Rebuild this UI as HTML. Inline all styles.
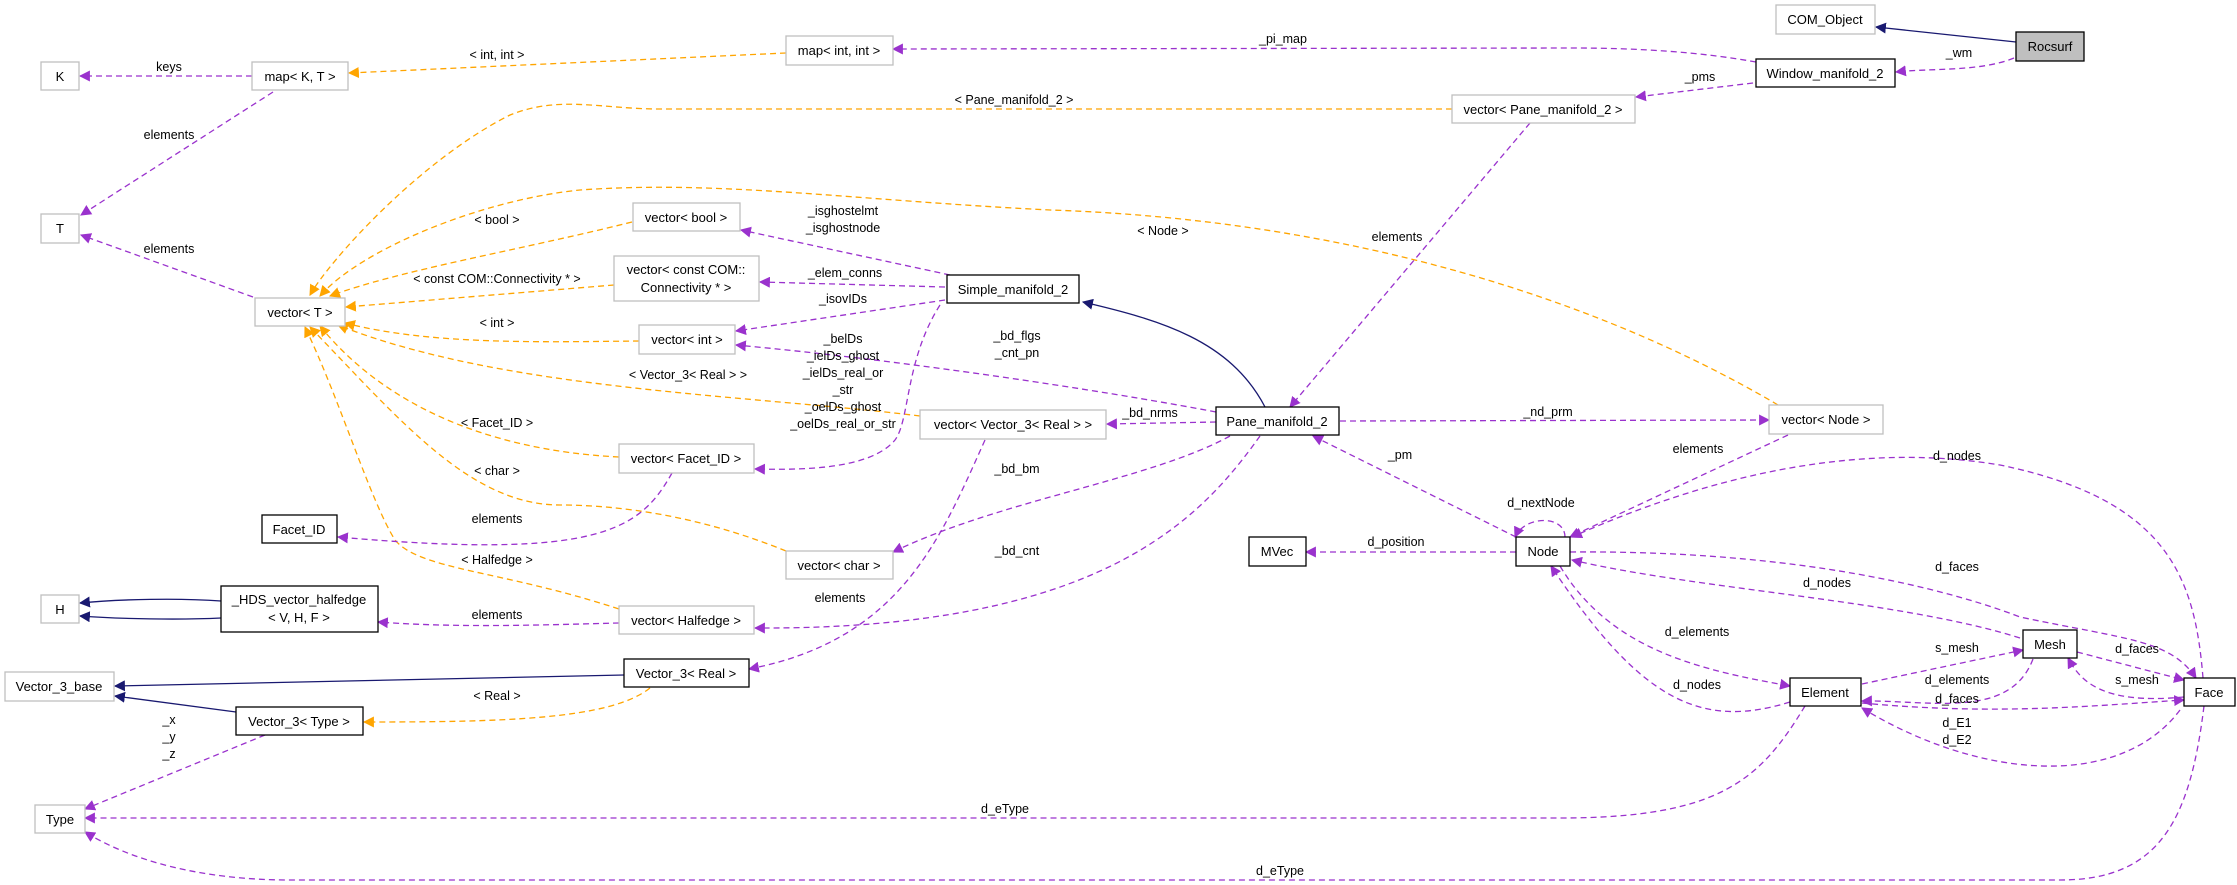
<!DOCTYPE html>
<html><head><meta charset="utf-8"><style>
html,body{margin:0;padding:0;background:#fff;}
svg{display:block;font-family:"Liberation Sans",Arial,sans-serif;font-size:13px;}
</style></head><body>
<svg width="2237" height="885" viewBox="0 0 2237 885" xmlns="http://www.w3.org/2000/svg">
<defs>
<marker id="p" viewBox="0 0 10 10" refX="9" refY="5" markerWidth="11" markerHeight="11" markerUnits="userSpaceOnUse" orient="auto"><path d="M0,0 L10,5 L0,10 z" fill="#9a32cd"/></marker>
<marker id="o" viewBox="0 0 10 10" refX="9" refY="5" markerWidth="11" markerHeight="11" markerUnits="userSpaceOnUse" orient="auto"><path d="M0,0 L10,5 L0,10 z" fill="#ffa500"/></marker>
<marker id="n" viewBox="0 0 10 10" refX="9" refY="5" markerWidth="11" markerHeight="11" markerUnits="userSpaceOnUse" orient="auto"><path d="M0,0 L10,5 L0,10 z" fill="#191970"/></marker>
</defs>
<g fill="none" stroke-width="1.3">
<g stroke="#191970" marker-end="url(#n)">
<path d="M2016,42 L1876,27"/>
<path d="M1265,407 C1230,340 1160,320 1083,302"/>
<path d="M221,601 C180,598 120,599 80,603"/>
<path d="M221,618 C180,620 120,619 80,616"/>
<path d="M624,675 L115,686"/>
<path d="M236,712 L115,696"/>
</g>
<g stroke="#ffa500" stroke-dasharray="6,4" marker-end="url(#o)">
<path d="M1452,109 L660,109 C600,109 560,95 510,115 C420,160 330,260 310,295"/>
<path d="M786,53 L349,73"/>
<path d="M632,222 C520,250 400,270 330,296"/>
<path d="M614,285 L346,307"/>
<path d="M639,341 C540,342 430,345 345,323"/>
<path d="M920,416 C750,395 500,390 338,325"/>
<path d="M619,457 C480,450 380,400 320,326"/>
<path d="M786,551 C700,516 620,505 560,505 C470,505 400,420 310,327"/>
<path d="M619,609 C500,570 420,570 395,540 C370,500 340,400 305,327"/>
<path d="M1778,405 C1600,300 1350,220 1050,210 C850,200 720,180 580,190 C480,200 360,250 320,296"/>
<path d="M650,688 C610,720 500,722 364,722"/>
</g>
<g stroke="#9a32cd" stroke-dasharray="6,4" marker-end="url(#p)">
<path d="M2014,58 C1980,72 1930,68 1896,72"/>
<path d="M1756,62 C1700,52 1640,48 1570,48 L893,49"/>
<path d="M1753,83 L1636,97"/>
<path d="M252,76 L80,76"/>
<path d="M273,92 L81,215"/>
<path d="M253,297 L81,235"/>
<path d="M950,275 L741,230"/>
<path d="M945,287 L760,282"/>
<path d="M945,300 L736,331"/>
<path d="M940,305 C905,360 910,420 895,440 C870,470 800,470 755,469"/>
<path d="M1216,412 C1100,390 900,360 736,345"/>
<path d="M1216,422 L1107,424"/>
<path d="M1230,436 C1150,480 1000,500 893,552"/>
<path d="M1260,436 C1200,520 1100,630 755,628"/>
<path d="M985,440 C940,540 900,640 749,669"/>
<path d="M672,473 C640,530 600,560 338,537"/>
<path d="M619,623 C540,625 460,628 378,622"/>
<path d="M265,735 L85,809"/>
<path d="M1530,123 L1290,407"/>
<path d="M1340,421 L1769,420"/>
<path d="M1788,435 L1570,537"/>
<path d="M1516,537 L1313,436"/>
<path d="M1565,537 C1565,515 1525,515 1515,537"/>
<path d="M1516,552 L1306,552"/>
<path d="M2203,678 C2195,580 2170,500 2000,465 C1850,440 1700,480 1572,537"/>
<path d="M1570,552 C1800,550 1950,590 2020,617 C2130,640 2170,640 2196,678"/>
<path d="M2020,638 C1900,600 1700,590 1572,560"/>
<path d="M1560,566 C1610,650 1700,670 1790,686"/>
<path d="M1790,702 C1700,730 1640,700 1551,566"/>
<path d="M1862,684 L2023,650"/>
<path d="M2033,659 C2010,720 1930,700 1862,701"/>
<path d="M2077,652 L2184,680"/>
<path d="M2184,697 C2100,705 2080,680 2068,658"/>
<path d="M1862,703 C2000,716 2100,705 2184,700"/>
<path d="M2180,710 C2120,790 1980,780 1862,708"/>
<path d="M1805,706 C1760,780 1720,818 1560,818 L85,818"/>
<path d="M2204,706 C2190,820 2160,880 2060,880 L290,880 C200,880 130,860 85,832"/>
</g>
</g>
<g stroke-width="1.3">
<g fill="#fff" stroke="#bfbfbf">
<rect x="1776" y="5" width="99" height="29"/>
<rect x="786" y="36" width="107" height="29"/>
<rect x="41" y="62" width="38" height="28"/>
<rect x="252" y="62" width="96" height="28"/>
<rect x="1452" y="95" width="183" height="28"/>
<rect x="41" y="214" width="38" height="29"/>
<rect x="633" y="203" width="107" height="28"/>
<rect x="614" y="256" width="145" height="45"/>
<rect x="255" y="298" width="90" height="28"/>
<rect x="639" y="325" width="96" height="29"/>
<rect x="920" y="410" width="186" height="29"/>
<rect x="1769" y="405" width="114" height="29"/>
<rect x="619" y="444" width="135" height="29"/>
<rect x="786" y="551" width="107" height="28"/>
<rect x="41" y="595" width="38" height="28"/>
<rect x="619" y="606" width="135" height="28"/>
<rect x="5" y="672" width="109" height="29"/>
<rect x="35" y="805" width="50" height="28"/>
</g>
<rect x="2016" y="32" width="68" height="29" fill="#bfbfbf" stroke="#000"/>
<g fill="#fff" stroke="#000">
<rect x="1756" y="59" width="139" height="28"/>
<rect x="947" y="275" width="132" height="28"/>
<rect x="1216" y="407" width="123" height="28"/>
<rect x="262" y="515" width="75" height="28"/>
<rect x="221" y="586" width="157" height="46"/>
<rect x="624" y="659" width="125" height="28"/>
<rect x="236" y="707" width="127" height="28"/>
<rect x="1249" y="537" width="57" height="29"/>
<rect x="1516" y="537" width="54" height="29"/>
<rect x="2023" y="630" width="54" height="28"/>
<rect x="1790" y="678" width="71" height="28"/>
<rect x="2184" y="678" width="51" height="28"/>
</g>
</g>
<g fill="#000" text-anchor="middle">
<text x="1825" y="24">COM_Object</text>
<text x="2050" y="51">Rocsurf</text>
<text x="1825" y="78">Window_manifold_2</text>
<text x="839" y="55">map&lt; int, int &gt;</text>
<text x="60" y="81">K</text>
<text x="300" y="81">map&lt; K, T &gt;</text>
<text x="1543" y="114">vector&lt; Pane_manifold_2 &gt;</text>
<text x="60" y="233">T</text>
<text x="686" y="222">vector&lt; bool &gt;</text>
<text x="686" y="274">vector&lt; const COM::</text>
<text x="686" y="292">Connectivity * &gt;</text>
<text x="300" y="317">vector&lt; T &gt;</text>
<text x="1013" y="294">Simple_manifold_2</text>
<text x="687" y="344">vector&lt; int &gt;</text>
<text x="1013" y="429">vector&lt; Vector_3&lt; Real &gt; &gt;</text>
<text x="1277" y="426">Pane_manifold_2</text>
<text x="1826" y="424">vector&lt; Node &gt;</text>
<text x="686" y="463">vector&lt; Facet_ID &gt;</text>
<text x="299" y="534">Facet_ID</text>
<text x="839" y="570">vector&lt; char &gt;</text>
<text x="60" y="614">H</text>
<text x="299" y="604">_HDS_vector_halfedge</text>
<text x="299" y="622">&lt; V, H, F &gt;</text>
<text x="686" y="625">vector&lt; Halfedge &gt;</text>
<text x="59" y="691">Vector_3_base</text>
<text x="686" y="678">Vector_3&lt; Real &gt;</text>
<text x="299" y="726">Vector_3&lt; Type &gt;</text>
<text x="60" y="824">Type</text>
<text x="1277" y="556">MVec</text>
<text x="1543" y="556">Node</text>
<text x="2050" y="649">Mesh</text>
<text x="1825" y="697">Element</text>
<text x="2209" y="697">Face</text>
</g>
<g fill="#000" text-anchor="middle" font-size="12.5">
<text x="1959" y="57">_wm</text>
<text x="1283" y="43">_pi_map</text>
<text x="1700" y="81">_pms</text>
<text x="1014" y="104">&lt; Pane_manifold_2 &gt;</text>
<text x="497" y="59">&lt; int, int &gt;</text>
<text x="169" y="71">keys</text>
<text x="169" y="139">elements</text>
<text x="169" y="253">elements</text>
<text x="497" y="224">&lt; bool &gt;</text>
<text x="497" y="283">&lt; const COM::Connectivity * &gt;</text>
<text x="497" y="327">&lt; int &gt;</text>
<text x="688" y="379">&lt; Vector_3&lt; Real &gt; &gt;</text>
<text x="497" y="427">&lt; Facet_ID &gt;</text>
<text x="497" y="475">&lt; char &gt;</text>
<text x="497" y="564">&lt; Halfedge &gt;</text>
<text x="1163" y="235">&lt; Node &gt;</text>
<text x="843" y="215">_isghostelmt</text>
<text x="843" y="232">_isghostnode</text>
<text x="845" y="277">_elem_conns</text>
<text x="843" y="303">_isovIDs</text>
<text x="843" y="343">_belDs</text>
<text x="843" y="360">_ielDs_ghost</text>
<text x="843" y="377">_ielDs_real_or</text>
<text x="843" y="394">_str</text>
<text x="843" y="411">_oelDs_ghost</text>
<text x="843" y="428">_oelDs_real_or_str</text>
<text x="1017" y="340">_bd_flgs</text>
<text x="1017" y="357">_cnt_pn</text>
<text x="1150" y="417">_bd_nrms</text>
<text x="1017" y="473">_bd_bm</text>
<text x="1017" y="555">_bd_cnt</text>
<text x="840" y="602">elements</text>
<text x="497" y="523">elements</text>
<text x="497" y="619">elements</text>
<text x="497" y="700">&lt; Real &gt;</text>
<text x="169" y="724">_x</text>
<text x="169" y="741">_y</text>
<text x="169" y="758">_z</text>
<text x="1397" y="241">elements</text>
<text x="1548" y="416">_nd_prm</text>
<text x="1698" y="453">elements</text>
<text x="1400" y="459">_pm</text>
<text x="1541" y="507">d_nextNode</text>
<text x="1396" y="546">d_position</text>
<text x="1957" y="460">d_nodes</text>
<text x="1957" y="571">d_faces</text>
<text x="1827" y="587">d_nodes</text>
<text x="1697" y="636">d_elements</text>
<text x="1697" y="689">d_nodes</text>
<text x="1957" y="652">s_mesh</text>
<text x="1957" y="684">d_elements</text>
<text x="2137" y="653">d_faces</text>
<text x="2137" y="684">s_mesh</text>
<text x="1957" y="703">d_faces</text>
<text x="1957" y="727">d_E1</text>
<text x="1957" y="744">d_E2</text>
<text x="1005" y="813">d_eType</text>
<text x="1280" y="875">d_eType</text>
</g>
</svg>
</body></html>
